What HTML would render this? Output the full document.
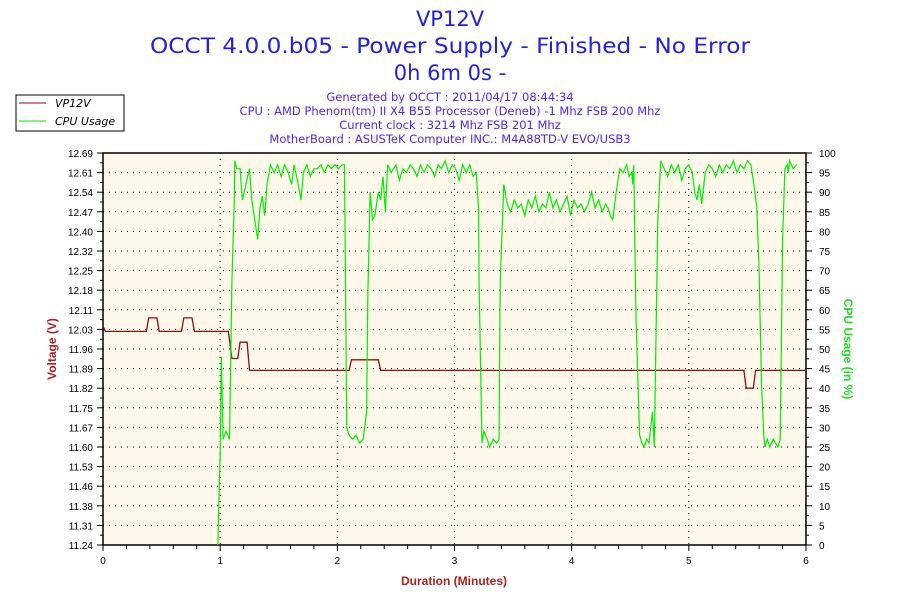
<!DOCTYPE html>
<html><head><meta charset="utf-8"><style>
body{margin:0;background:#fff;width:900px;height:600px;overflow:hidden;font-family:"Liberation Sans",sans-serif}
</style></head><body>
<svg id="c" width="900" height="600" xmlns="http://www.w3.org/2000/svg" font-family="'Liberation Sans',sans-serif">
<g font-family="'DejaVu Sans',sans-serif">
<text x="450" y="26" text-anchor="middle" font-size="21" fill="#2222dd">VP12V</text>
<text x="450" y="53" text-anchor="middle" font-size="21" textLength="600" lengthAdjust="spacingAndGlyphs" fill="#2222dd">OCCT 4.0.0.b05 - Power Supply - Finished - No Error</text>
<text x="450" y="80" text-anchor="middle" font-size="21" fill="#2222dd">0h 6m 0s -</text>
<text x="450" y="101" text-anchor="middle" font-size="11.5" fill="#5522ee">Generated by OCCT : 2011/04/17 08:44:34</text>
<text x="450" y="115" text-anchor="middle" font-size="11.5" fill="#5522ee">CPU : AMD Phenom(tm) II X4 B55 Processor (Deneb) -1 Mhz FSB 200 Mhz</text>
<text x="450" y="129" text-anchor="middle" font-size="11.5" fill="#5522ee">Current clock : 3214 Mhz FSB 201 Mhz</text>
<text x="450" y="143" text-anchor="middle" font-size="11.5" fill="#5522ee">MotherBoard : ASUSTeK Computer INC.: M4A88TD-V EVO/USB3</text>
</g>
<g font-family="'DejaVu Sans',sans-serif">
<rect x="16" y="95" width="108" height="36" fill="#fff" stroke="#000"/>
<line x1="19" y1="103" x2="46" y2="103" stroke="#8b1010"/>
<text x="55" y="107" font-size="11" font-style="italic" fill="#000">VP12V</text>
<line x1="19" y1="121" x2="46" y2="121" stroke="#00ee00"/>
<text x="55" y="125" font-size="11" font-style="italic" fill="#000">CPU Usage</text>
</g>
<rect x="103" y="153" width="703" height="392" fill="#fdf8ea"/>
<g id="grid"></g><g id="axes"></g><g id="series"></g>
<text transform="translate(56,349) rotate(-90)" text-anchor="middle" font-size="12" font-weight="bold" fill="#aa2222">Voltage (V)</text>
<text transform="translate(844,349) rotate(90)" text-anchor="middle" font-size="12" font-weight="bold" fill="#22dd22">CPU Usage (in %)</text>
<text x="454" y="585" text-anchor="middle" font-size="12" font-weight="bold" fill="#aa2222">Duration (Minutes)</text>
</svg>
<script>
const vTicks=["12.69","12.61","12.54","12.47","12.40","12.32","12.25","12.18","12.11","12.03","11.96","11.89","11.82","11.75","11.67","11.60","11.53","11.46","11.38","11.31","11.24"];
const xTicks=[0,1,2,3,4,5,6];
const cpuTicks=[100,95,90,85,80,75,70,65,60,55,50,45,40,35,30,25,20,15,10,5,0];
const vTime=[0,0.02,0.37,0.39,0.46,0.48,0.67,0.69,0.76,0.78,1.07,1.10,1.15,1.17,1.23,1.25,2.10,2.12,2.35,2.37,5.47,5.49,5.55,5.57,6];
const vVals=[12.05,12.03,12.03,12.08,12.08,12.03,12.03,12.08,12.08,12.03,12.03,11.93,11.93,11.99,11.99,11.886,11.886,11.925,11.925,11.886,11.886,11.82,11.82,11.886,11.886];
const cpuTime=[0.98,1.0,1.01,1.025,1.05,1.08,1.10,1.12,1.125,1.14,1.17,1.19,1.22,1.25,1.27,1.30,1.32,1.34,1.36,1.38,1.40,1.43,1.46,1.49,1.52,1.55,1.58,1.61,1.63,1.66,1.69,1.71,1.74,1.77,1.80,1.83,1.86,1.89,1.92,1.95,1.98,2.01,2.04,2.06,2.07,2.08,2.10,2.13,2.16,2.19,2.22,2.25,2.26,2.28,2.30,2.32,2.35,2.37,2.39,2.41,2.43,2.46,2.50,2.53,2.56,2.59,2.62,2.65,2.68,2.71,2.74,2.77,2.80,2.83,2.86,2.89,2.92,2.95,2.98,3.01,3.04,3.07,3.10,3.13,3.16,3.185,3.205,3.21,3.23,3.235,3.25,3.28,3.30,3.33,3.36,3.38,3.39,3.41,3.42,3.45,3.48,3.51,3.54,3.57,3.60,3.63,3.66,3.69,3.72,3.75,3.78,3.81,3.84,3.87,3.90,3.93,3.96,3.99,4.02,4.05,4.08,4.11,4.14,4.17,4.20,4.23,4.26,4.29,4.31,4.33,4.35,4.38,4.41,4.44,4.47,4.49,4.515,4.52,4.53,4.54,4.55,4.58,4.60,4.62,4.64,4.66,4.69,4.705,4.72,4.735,4.76,4.79,4.82,4.85,4.88,4.91,4.94,4.97,5.00,5.03,5.05,5.07,5.09,5.11,5.14,5.17,5.20,5.23,5.26,5.29,5.32,5.35,5.38,5.41,5.44,5.47,5.50,5.53,5.56,5.58,5.60,5.62,5.64,5.65,5.67,5.68,5.69,5.72,5.74,5.76,5.78,5.80,5.82,5.84,5.85,5.86,5.89,5.92,5.95,5.98,6.0];
const cpuVals=[0,24,48,27,29,27,67,87,98,96,96,88,92,96,88,82,78,86,89,84,92,97,95,97,94,97,95,92,97,93,88,95,97,94,96,96,97,95,97,96,97,96,97,97,68,30,28,27,28,26,27,34,63,90,83,84,90,88,94,85,97,95,97,93,96,95,97,96,94,97,95,97,96,94,97,96,98,95,97,96,93,97,95,97,94,95,86,67,34,26,29,27,25,27,26,27,67,83,92,87,85,88,86,87,84,88,86,89,85,87,86,90,86,88,85,87,89,84,88,86,87,85,87,90,86,88,85,87,86,84,83,90,96,95,97,94,95,92,97,76,57,28,26,25,27,26,34,25,53,83,98,96,94,97,95,97,93,96,97,95,90,88,92,87,95,97,96,94,97,95,97,96,98,95,97,96,98,97,91,86,70,41,28,25,27,26,25,27,26,25,27,78,96,97,95,98,96,97];

const X0=103,X1=806,Y0=153,Y1=545;
const xs=t=>X0+(t/6)*(X1-X0);
const yV=v=>Y1-(v-11.24)/(12.69-11.24)*(Y1-Y0);
const yC=p=>Y1-p/100*(Y1-Y0);
const NS="http://www.w3.org/2000/svg";
function mk(tag,attrs,parent){const e=document.createElementNS(NS,tag);for(const k in attrs)e.setAttribute(k,attrs[k]);parent.appendChild(e);return e;}
const grid=document.getElementById('grid'),axes=document.getElementById('axes'),ser=document.getElementById('series');
const step=(Y1-Y0)/(vTicks.length-1);
vTicks.forEach((lab,i)=>{
  const y=Y0+i*step;
  if(i>0&&i<vTicks.length-1){const g=mk('line',{x1:X0,y1:y,x2:X1,y2:y,stroke:'#000','stroke-dasharray':'1,5'},grid);
  
  }
  mk('line',{x1:X0-6,y1:y,x2:X0,y2:y,stroke:'#000'},axes);
  mk('line',{x1:X1,y1:y,x2:X1+6,y2:y,stroke:'#000'},axes);
  if(i<vTicks.length-1){mk('line',{x1:X0-3,y1:y+step/2,x2:X0,y2:y+step/2,stroke:'#000'},axes);mk('line',{x1:X1,y1:y+step/2,x2:X1+3,y2:y+step/2,stroke:'#000'},axes);}
  const t=mk('text',{x:X0-10,y:y+4,'text-anchor':'end','font-size':'10',fill:'#000'},axes);t.textContent=lab;
  
  
  const r=mk('text',{x:X1+13,y:y+4,'font-size':'10',fill:'#000'},axes);r.textContent=cpuTicks[i];
  
  
});
xTicks.forEach(v=>{
  const x=xs(v);
  if(v>0&&v<6){const g=mk('line',{x1:x,y1:Y0,x2:x,y2:Y1,stroke:'#000','stroke-dasharray':'1,5'},grid);
  
  }
  mk('line',{x1:x,y1:Y1,x2:x,y2:Y1+6,stroke:'#000'},axes);
  const t=mk('text',{x:x,y:Y1+19,'text-anchor':'middle','font-size':'10',fill:'#000'},axes);t.textContent=v;
  
  
});
for(let m=0.2;m<6;m+=0.2){if(Math.abs(m-Math.round(m))<0.01)continue;const x=xs(m);mk('line',{x1:x,y1:Y1,x2:x,y2:Y1+4,stroke:'#000'},axes);}
mk('rect',{x:X0,y:Y0,width:X1-X0,height:Y1-Y0,fill:'none',stroke:'#000','stroke-width':1.5},axes);
let vp='';vTime.forEach((t,i)=>{vp+=(i?'L':'M')+xs(t).toFixed(1)+','+yV(vVals[i]).toFixed(1);});
const vl=mk('path',{d:vp,fill:'none',stroke:'#8b1010','stroke-width':1.3},ser);


let cp='';cpuTime.forEach((t,i)=>{cp+=(i?'L':'M')+xs(t).toFixed(1)+','+yC(cpuVals[i]).toFixed(1);});
const cl=mk('path',{d:cp,fill:'none',stroke:'#00ee00','stroke-width':1.2},ser);


</script>
</body></html>
